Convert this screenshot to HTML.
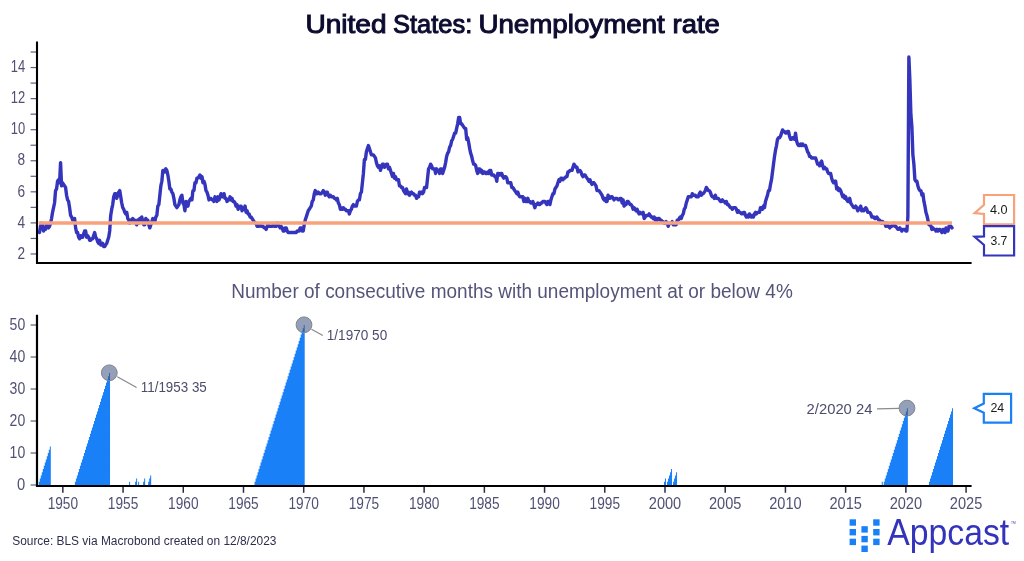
<!DOCTYPE html>
<html><head><meta charset="utf-8">
<style>
html,body{margin:0;padding:0;background:#fff;}
body{width:1024px;height:561px;overflow:hidden;}
svg{display:block;will-change:transform;}
text{font-family:"Liberation Sans", sans-serif;}
</style></head>
<body>
<svg width="1024" height="561" viewBox="0 0 1024 561">
<rect width="1024" height="561" fill="#fff"/>
<g font-size="26" fill="#0c0c30" stroke="#0c0c30" stroke-width="1.0">
<text x="305.4" y="32.5" textLength="81.1" lengthAdjust="spacingAndGlyphs">United</text>
<text x="393" y="32.5" textLength="79.2" lengthAdjust="spacingAndGlyphs">States:</text>
<text x="478.4" y="32.5" textLength="186.4" lengthAdjust="spacingAndGlyphs">Unemployment</text>
<text x="672.6" y="32.5" textLength="47.2" lengthAdjust="spacingAndGlyphs">rate</text>
</g>

<g stroke="#60607c" stroke-width="1.2"><line x1="30.6" y1="253.97" x2="37" y2="253.97"/><line x1="30.6" y1="238.44" x2="37" y2="238.44"/><line x1="30.6" y1="222.90" x2="37" y2="222.90"/><line x1="30.6" y1="207.37" x2="37" y2="207.37"/><line x1="30.6" y1="191.83" x2="37" y2="191.83"/><line x1="30.6" y1="176.30" x2="37" y2="176.30"/><line x1="30.6" y1="160.76" x2="37" y2="160.76"/><line x1="30.6" y1="145.23" x2="37" y2="145.23"/><line x1="30.6" y1="129.69" x2="37" y2="129.69"/><line x1="30.6" y1="114.16" x2="37" y2="114.16"/><line x1="30.6" y1="98.62" x2="37" y2="98.62"/><line x1="30.6" y1="83.09" x2="37" y2="83.09"/><line x1="30.6" y1="67.55" x2="37" y2="67.55"/><line x1="30.6" y1="52.02" x2="37" y2="52.02"/></g>
<g font-size="16" fill="#505074" text-anchor="end"><text x="25.2" y="258.67" textLength="7.6" lengthAdjust="spacingAndGlyphs">2</text><text x="25.2" y="227.60" textLength="7.6" lengthAdjust="spacingAndGlyphs">4</text><text x="25.2" y="196.53" textLength="7.6" lengthAdjust="spacingAndGlyphs">6</text><text x="25.2" y="165.46" textLength="7.6" lengthAdjust="spacingAndGlyphs">8</text><text x="25.2" y="134.39" textLength="14.4" lengthAdjust="spacingAndGlyphs">10</text><text x="25.2" y="103.32" textLength="14.4" lengthAdjust="spacingAndGlyphs">12</text><text x="25.2" y="72.25" textLength="14.4" lengthAdjust="spacingAndGlyphs">14</text></g>
<polyline points="39.51,232.52 40.52,226.31 41.52,223.20 42.52,224.75 43.52,230.97 44.53,229.41 45.53,229.41 46.53,224.75 47.54,226.31 48.54,227.86 49.54,226.31 50.54,223.20 51.55,218.54 52.55,212.33 53.55,207.67 54.55,203.00 55.56,190.58 56.56,189.02 57.56,181.26 58.57,179.70 59.57,182.81 60.57,162.61 61.57,185.92 62.58,182.81 63.58,184.36 64.58,185.92 65.58,187.47 66.59,195.24 67.59,199.90 68.59,201.45 69.60,207.67 70.60,215.43 71.60,216.99 72.60,220.09 73.61,220.09 74.61,218.54 75.61,227.86 76.61,232.52 77.62,232.52 78.62,237.18 79.62,238.74 80.63,235.63 81.63,237.18 82.63,237.18 83.63,234.07 84.64,230.97 85.64,230.97 86.64,237.18 87.64,235.63 88.65,237.18 89.65,240.29 90.65,240.29 91.66,238.74 92.66,238.74 93.66,235.63 94.66,232.52 95.67,237.18 96.67,238.74 97.67,241.84 98.67,243.40 99.68,240.29 100.68,244.95 101.68,244.95 102.69,243.40 103.69,246.50 104.69,246.50 105.69,244.95 106.70,243.40 107.70,240.29 108.70,237.18 109.70,230.97 110.71,215.43 111.71,209.22 112.71,204.56 113.72,196.79 114.72,193.68 115.72,193.68 116.72,198.34 117.73,195.24 118.73,192.13 119.73,190.58 120.73,196.79 121.74,203.00 122.74,207.67 123.74,209.22 124.75,212.33 125.75,213.88 126.75,212.33 127.75,218.54 128.76,220.09 129.76,223.20 130.76,220.09 131.76,221.65 132.77,218.54 133.77,220.09 134.77,220.09 135.77,223.20 136.78,224.75 137.78,220.09 138.78,223.20 139.79,218.54 140.79,218.54 141.79,216.99 142.79,221.65 143.80,224.75 144.80,224.75 145.80,218.54 146.80,220.09 147.81,220.09 148.81,224.75 149.81,227.86 150.82,224.75 151.82,221.65 152.82,218.54 153.82,220.09 154.83,221.65 155.83,216.99 156.83,215.43 157.83,206.11 158.84,204.56 159.84,195.24 160.84,185.92 161.85,181.26 162.85,170.38 163.85,170.38 164.85,171.93 165.86,168.83 166.86,170.38 167.86,175.04 168.86,181.26 169.87,189.02 170.87,189.02 171.87,192.13 172.88,193.68 173.88,198.34 174.88,204.56 175.88,206.11 176.89,207.67 177.89,206.11 178.89,204.56 179.89,199.90 180.90,196.79 181.90,195.24 182.90,203.00 183.91,204.56 184.91,210.77 185.91,201.45 186.91,204.56 187.92,206.11 188.92,201.45 189.92,199.90 190.92,198.34 191.93,199.90 192.93,190.58 193.93,190.58 194.94,182.81 195.94,182.81 196.94,178.15 197.94,178.15 198.95,176.60 199.95,175.04 200.95,178.15 201.95,176.60 202.96,182.81 203.96,181.26 204.96,184.36 205.97,190.58 206.97,192.13 207.97,195.24 208.97,199.90 209.98,198.34 210.98,198.34 211.98,199.90 212.98,199.90 213.99,201.45 214.99,196.79 215.99,198.34 217.00,201.45 218.00,196.79 219.00,199.90 220.00,196.79 221.01,193.68 222.01,196.79 223.01,196.79 224.01,193.68 225.02,198.34 226.02,198.34 227.02,201.45 228.03,199.90 229.03,199.90 230.03,196.79 231.03,199.90 232.04,198.34 233.04,201.45 234.04,201.45 235.04,203.00 236.05,206.11 237.05,204.56 238.05,209.22 239.05,207.67 240.06,206.11 241.06,206.11 242.06,210.77 243.07,207.67 244.07,209.22 245.07,206.11 246.07,212.33 247.08,210.77 248.08,213.88 249.08,213.88 250.08,216.99 251.09,216.99 252.09,218.54 253.09,220.09 254.10,221.65 255.10,223.20 256.10,223.20 257.10,226.31 258.11,226.31 259.11,226.31 260.11,224.75 261.11,226.31 262.12,226.31 263.12,226.31 264.12,227.86 265.13,227.86 266.13,229.41 267.13,226.31 268.13,224.75 269.14,226.31 270.14,226.31 271.14,226.31 272.14,226.31 273.15,224.75 274.15,226.31 275.15,226.31 276.16,226.31 277.16,223.20 278.16,224.75 279.16,226.31 280.17,227.86 281.17,226.31 282.17,227.86 283.17,230.97 284.18,230.97 285.18,227.86 286.18,227.86 287.19,230.97 288.19,232.52 289.19,232.52 290.19,232.52 291.20,232.52 292.20,232.52 293.20,232.52 294.20,232.52 295.21,232.52 296.21,232.52 297.21,230.97 298.22,230.97 299.22,230.97 300.22,227.86 301.22,227.86 302.23,230.97 303.23,230.97 304.23,224.75 305.23,220.09 306.24,216.99 307.24,213.88 308.24,210.77 309.25,209.22 310.25,207.67 311.25,206.11 312.25,201.45 313.26,199.90 314.26,193.68 315.26,190.58 316.26,193.68 317.27,193.68 318.27,192.13 319.27,193.68 320.28,193.68 321.28,193.68 322.28,192.13 323.28,190.58 324.29,192.13 325.29,195.24 326.29,192.13 327.29,192.13 328.30,195.24 329.30,196.79 330.30,195.24 331.31,196.79 332.31,196.79 333.31,196.79 334.31,198.34 335.32,198.34 336.32,199.90 337.32,198.34 338.32,203.00 339.33,204.56 340.33,209.22 341.33,207.67 342.33,209.22 343.34,207.67 344.34,209.22 345.34,209.22 346.35,210.77 347.35,210.77 348.35,210.77 349.35,213.88 350.36,210.77 351.36,209.22 352.36,206.11 353.36,204.56 354.37,206.11 355.37,206.11 356.37,206.11 357.38,201.45 358.38,199.90 359.38,199.90 360.38,193.68 361.39,192.13 362.39,182.81 363.39,173.49 364.39,159.51 365.40,159.51 366.40,151.74 367.40,148.63 368.41,145.53 369.41,148.63 370.41,151.74 371.41,154.85 372.42,154.85 373.42,154.85 374.42,156.40 375.42,157.95 376.43,162.61 377.43,165.72 378.43,167.27 379.44,165.72 380.44,170.38 381.44,167.27 382.44,164.17 383.45,164.17 384.45,167.27 385.45,165.72 386.45,164.17 387.46,164.17 388.46,168.83 389.46,167.27 390.47,170.38 391.47,173.49 392.47,176.60 393.47,173.49 394.48,178.15 395.48,176.60 396.48,179.70 397.48,179.70 398.49,179.70 399.49,185.92 400.49,185.92 401.50,187.47 402.50,187.47 403.50,190.58 404.50,192.13 405.51,193.68 406.51,189.02 407.51,193.68 408.51,192.13 409.52,195.24 410.52,193.68 411.52,192.13 412.53,193.68 413.53,193.68 414.53,195.24 415.53,195.24 416.54,198.34 417.54,196.79 418.54,196.79 419.54,192.13 420.55,193.68 421.55,192.13 422.55,193.68 423.56,192.13 424.56,187.47 425.56,187.47 426.56,187.47 427.57,178.15 428.57,168.83 429.57,167.27 430.57,164.17 431.58,165.72 432.58,168.83 433.58,168.83 434.59,168.83 435.59,173.49 436.59,168.83 437.59,170.38 438.60,170.38 439.60,173.49 440.60,168.83 441.60,168.83 442.61,173.49 443.61,170.38 444.61,167.27 445.61,162.61 446.62,156.40 447.62,153.29 448.62,151.74 449.63,147.08 450.63,145.53 451.63,140.86 452.63,139.31 453.64,136.20 454.64,133.10 455.64,133.10 456.64,128.44 457.65,123.78 458.65,117.56 459.65,117.56 460.66,123.78 461.66,123.78 462.66,125.33 463.66,126.88 464.67,128.44 465.67,128.44 466.67,139.31 467.67,137.76 468.68,142.42 469.68,148.63 470.68,153.29 471.69,156.40 472.69,161.06 473.69,164.17 474.69,164.17 475.70,165.72 476.70,170.38 477.70,173.49 478.70,168.83 479.71,168.83 480.71,171.93 481.71,170.38 482.72,173.49 483.72,171.93 484.72,171.93 485.72,173.49 486.73,173.49 487.73,171.93 488.73,173.49 489.73,170.38 490.74,170.38 491.74,175.04 492.74,175.04 493.75,175.04 494.75,176.60 495.75,176.60 496.75,181.26 497.76,173.49 498.76,173.49 499.76,175.04 500.76,173.49 501.77,173.49 502.77,176.60 503.77,178.15 504.78,176.60 505.78,176.60 506.78,178.15 507.78,182.81 508.79,182.81 509.79,182.81 510.79,182.81 511.79,187.47 512.80,187.47 513.80,189.02 514.80,190.58 515.81,192.13 516.81,193.68 517.81,192.13 518.81,195.24 519.82,196.79 520.82,196.79 521.82,196.79 522.82,196.79 523.83,201.45 524.83,198.34 525.83,201.45 526.84,201.45 527.84,198.34 528.84,201.45 529.84,201.45 530.85,203.00 531.85,203.00 532.85,201.45 533.85,204.56 534.86,207.67 535.86,204.56 536.86,204.56 537.86,203.00 538.87,204.56 539.87,204.56 540.87,203.00 541.88,203.00 542.88,201.45 543.88,201.45 544.88,201.45 545.89,203.00 546.89,204.56 547.89,201.45 548.89,201.45 549.90,204.56 550.90,199.90 551.90,196.79 552.91,193.68 553.91,193.68 554.91,189.02 555.91,187.47 556.92,185.92 557.92,182.81 558.92,179.70 559.92,181.26 560.93,178.15 561.93,178.15 562.93,179.70 563.94,178.15 564.94,178.15 565.94,176.60 566.94,176.60 567.95,171.93 568.95,171.93 569.95,170.38 570.95,170.38 571.96,170.38 572.96,167.27 573.96,164.17 574.97,165.72 575.97,167.27 576.97,167.27 577.97,171.93 578.98,170.38 579.98,170.38 580.98,171.93 581.98,175.04 582.99,176.60 583.99,175.04 584.99,175.04 586.00,176.60 587.00,178.15 588.00,179.70 589.00,181.26 590.01,179.70 591.01,182.81 592.01,184.36 593.01,182.81 594.02,182.81 595.02,184.36 596.02,185.92 597.03,190.58 598.03,190.58 599.03,190.58 600.03,192.13 601.04,193.68 602.04,195.24 603.04,198.34 604.04,199.90 605.05,198.34 606.05,201.45 607.05,201.45 608.06,195.24 609.06,198.34 610.06,198.34 611.06,196.79 612.07,196.79 613.07,198.34 614.07,199.90 615.07,198.34 616.08,198.34 617.08,198.34 618.08,199.90 619.09,199.90 620.09,198.34 621.09,198.34 622.09,203.00 623.10,199.90 624.10,206.11 625.10,204.56 626.10,204.56 627.11,201.45 628.11,201.45 629.11,203.00 630.12,204.56 631.12,204.56 632.12,206.11 633.12,209.22 634.13,207.67 635.13,209.22 636.13,210.77 637.13,209.22 638.14,212.33 639.14,213.88 640.14,212.33 641.14,213.88 642.15,213.88 643.15,212.33 644.15,218.54 645.16,216.99 646.16,215.43 647.16,215.43 648.16,215.43 649.17,213.88 650.17,215.43 651.17,216.99 652.17,216.99 653.18,218.54 654.18,216.99 655.18,220.09 656.19,218.54 657.19,220.09 658.19,218.54 659.19,218.54 660.20,220.09 661.20,220.09 662.20,221.65 663.20,221.65 664.21,223.20 665.21,223.20 666.21,221.65 667.22,223.20 668.22,226.31 669.22,223.20 670.22,223.20 671.23,223.20 672.23,221.65 673.23,224.75 674.23,224.75 675.24,224.75 676.24,224.75 677.24,220.09 678.25,220.09 679.25,218.54 680.25,216.99 681.25,218.54 682.26,215.43 683.26,213.88 684.26,209.22 685.26,207.67 686.27,203.00 687.27,199.90 688.27,196.79 689.28,196.79 690.28,196.79 691.28,196.79 692.28,193.68 693.29,195.24 694.29,195.24 695.29,195.24 696.29,196.79 697.30,196.79 698.30,196.79 699.30,193.68 700.31,192.13 701.31,195.24 702.31,193.68 703.31,193.68 704.32,192.13 705.32,190.58 706.32,187.47 707.32,189.02 708.33,190.58 709.33,190.58 710.33,192.13 711.34,195.24 712.34,196.79 713.34,196.79 714.34,198.34 715.35,195.24 716.35,198.34 717.35,198.34 718.35,198.34 719.36,199.90 720.36,201.45 721.36,201.45 722.37,199.90 723.37,201.45 724.37,201.45 725.37,203.00 726.38,201.45 727.38,204.56 728.38,204.56 729.38,206.11 730.39,207.67 731.39,207.67 732.39,209.22 733.40,207.67 734.40,207.67 735.40,207.67 736.40,209.22 737.41,212.33 738.41,210.77 739.41,212.33 740.41,212.33 741.42,213.88 742.42,213.88 743.42,212.33 744.42,212.33 745.43,215.43 746.43,216.99 747.43,215.43 748.44,216.99 749.44,213.88 750.44,215.43 751.44,216.99 752.45,215.43 753.45,216.99 754.45,213.88 755.45,212.33 756.46,213.88 757.46,212.33 758.46,212.33 759.47,212.33 760.47,207.67 761.47,207.67 762.47,209.22 763.48,206.11 764.48,207.67 765.48,201.45 766.48,198.34 767.49,195.24 768.49,190.58 769.49,190.58 770.50,184.36 771.50,179.70 772.50,171.93 773.50,164.17 774.51,156.40 775.51,150.19 776.51,145.53 777.51,139.31 778.52,137.76 779.52,137.76 780.52,136.20 781.53,133.10 782.53,129.99 783.53,131.54 784.53,131.54 785.54,133.10 786.54,133.10 787.54,131.54 788.54,131.54 789.55,136.20 790.55,139.31 791.55,139.31 792.56,137.76 793.56,137.76 794.56,139.31 795.56,133.10 796.57,140.86 797.57,143.97 798.57,145.53 799.57,145.53 800.58,143.97 801.58,145.53 802.58,143.97 803.59,145.53 804.59,145.53 805.59,145.53 806.59,148.63 807.60,151.74 808.60,153.29 809.60,156.40 810.60,156.40 811.61,157.95 812.61,157.95 813.61,157.95 814.62,157.95 815.62,157.95 816.62,161.06 817.62,164.17 818.63,164.17 819.63,165.72 820.63,162.61 821.63,161.06 822.64,165.72 823.64,168.83 824.64,167.27 825.65,168.83 826.65,168.83 827.65,171.93 828.65,173.49 829.66,173.49 830.66,173.49 831.66,178.15 832.66,181.26 833.67,182.81 834.67,181.26 835.67,181.26 836.68,189.02 837.68,187.47 838.68,190.58 839.68,189.02 840.69,190.58 841.69,193.68 842.69,196.79 843.69,195.24 844.70,198.34 845.70,196.79 846.70,199.90 847.70,201.45 848.71,201.45 849.71,198.34 850.71,203.00 851.72,204.56 852.72,206.11 853.72,207.67 854.72,207.67 855.73,206.11 856.73,207.67 857.73,210.77 858.73,209.22 859.74,207.67 860.74,206.11 861.74,210.77 862.75,209.22 863.75,210.77 864.75,209.22 865.75,207.67 866.76,209.22 867.76,212.33 868.76,212.33 869.76,212.33 870.77,213.88 871.77,216.99 872.77,216.99 873.78,216.99 874.78,218.54 875.78,218.54 876.78,216.99 877.79,218.54 878.79,220.09 879.79,220.09 880.79,221.65 881.80,223.20 882.80,221.65 883.80,223.20 884.81,223.20 885.81,226.31 886.81,223.20 887.81,226.31 888.82,226.31 889.82,227.86 890.82,226.31 891.82,226.31 892.83,224.75 893.83,223.20 894.83,226.31 895.84,226.31 896.84,227.86 897.84,229.41 898.84,229.41 899.85,227.86 900.85,229.41 901.85,230.97 902.85,229.41 903.86,229.41 904.86,229.41 905.86,230.97 906.87,230.97 907.87,216.99 908.87,56.98 909.87,80.28 910.88,114.45 911.88,126.88 912.89,154.85 913.89,164.17 914.89,179.70 915.90,181.26 916.90,181.26 917.90,185.92 918.91,189.02 919.91,190.58 920.91,190.58 921.92,195.24 922.92,193.68 923.92,201.45 924.93,206.11 925.93,212.33 926.94,215.43 927.94,220.09 928.94,224.75 929.95,223.20 930.95,226.31 931.95,229.41 932.96,227.86 933.96,229.41 934.96,229.41 935.97,230.97 936.97,229.41 937.97,230.97 938.98,229.41 939.98,229.41 940.99,230.97 941.99,232.52 942.99,229.41 944.00,230.97 945.00,232.52 946.00,227.86 947.01,229.41 948.01,230.97 949.01,226.31 950.02,226.31 951.02,226.31 952.02,227.86" fill="none" stroke="#3434bc" stroke-width="3.4" stroke-linejoin="round" stroke-linecap="round"/>
<line x1="38.76" y1="223.0" x2="952.02" y2="223.0" stroke="#f8a27c" stroke-width="3.7"/>
<path d="M37,41.6 V263 H971.6" fill="none" stroke="#000" stroke-width="2.1"/>

<path d="M984,195 H1014.1 V224.3 H984 V214 L974.6,213.1 L984,204.7 Z" fill="#fff" stroke="#f8a27c" stroke-width="2.2"/>
<text x="990" y="213.8" font-size="13.4" fill="#1a1a1a" textLength="17.6" lengthAdjust="spacingAndGlyphs">4.0</text>
<path d="M984,226.2 H1014.1 V255.5 H984 V244.9 L974.6,236.8 L984,236.4 Z" fill="#fff" stroke="#3434bc" stroke-width="2.2"/>
<text x="990.4" y="245" font-size="13.4" fill="#1a1a1a" textLength="17" lengthAdjust="spacingAndGlyphs">3.7</text>

<text x="231.2" y="297.7" font-size="20" fill="#54547a" textLength="561.6" lengthAdjust="spacingAndGlyphs">Number of consecutive months with unemployment at or below 4%</text>

<g fill="#1a80f8">
<polygon points="38.76,485.00 38.76,481.80 39.77,481.80 39.77,478.60 40.77,478.60 40.77,475.40 41.77,475.40 41.77,472.20 42.78,472.20 42.78,469.00 43.78,469.00 43.78,465.80 44.79,465.80 44.79,462.60 45.79,462.60 45.79,459.40 46.79,459.40 46.79,456.20 47.80,456.20 47.80,453.00 48.80,453.00 48.80,449.80 49.80,449.80 49.80,446.60 50.81,446.60 50.81,485.00"/>
<polygon points="74.89,485.00 74.89,481.80 75.90,481.80 75.90,478.60 76.90,478.60 76.90,475.40 77.90,475.40 77.90,472.20 78.91,472.20 78.91,469.00 79.91,469.00 79.91,465.80 80.91,465.80 80.91,462.60 81.92,462.60 81.92,459.40 82.92,459.40 82.92,456.20 83.93,456.20 83.93,453.00 84.93,453.00 84.93,449.80 85.93,449.80 85.93,446.60 86.94,446.60 86.94,443.40 87.94,443.40 87.94,440.20 88.94,440.20 88.94,437.00 89.95,437.00 89.95,433.80 90.95,433.80 90.95,430.60 91.95,430.60 91.95,427.40 92.96,427.40 92.96,424.20 93.96,424.20 93.96,421.00 94.96,421.00 94.96,417.80 95.97,417.80 95.97,414.60 96.97,414.60 96.97,411.40 97.98,411.40 97.98,408.20 98.98,408.20 98.98,405.00 99.98,405.00 99.98,401.80 100.99,401.80 100.99,398.60 101.99,398.60 101.99,395.40 102.99,395.40 102.99,392.20 104.00,392.20 104.00,389.00 105.00,389.00 105.00,385.80 106.00,385.80 106.00,382.60 107.01,382.60 107.01,379.40 108.01,379.40 108.01,376.20 109.01,376.20 109.01,373.00 110.02,373.00 110.02,485.00"/>
<polygon points="129.09,485.00 129.09,481.80 130.09,481.80 130.09,485.00"/>
<polygon points="135.11,485.00 135.11,481.80 136.11,481.80 136.11,478.60 137.12,478.60 137.12,485.00"/>
<polygon points="138.12,485.00 138.12,481.80 139.12,481.80 139.12,485.00"/>
<polygon points="143.14,485.00 143.14,481.80 144.14,481.80 144.14,478.60 145.14,478.60 145.14,485.00"/>
<polygon points="148.15,485.00 148.15,481.80 149.16,481.80 149.16,478.60 150.16,478.60 150.16,475.40 151.17,475.40 151.17,485.00"/>
<polygon points="254.53,485.00 254.53,481.80 255.54,481.80 255.54,478.60 256.54,478.60 256.54,475.40 257.55,475.40 257.55,472.20 258.55,472.20 258.55,469.00 259.55,469.00 259.55,465.80 260.56,465.80 260.56,462.60 261.56,462.60 261.56,459.40 262.56,459.40 262.56,456.20 263.57,456.20 263.57,453.00 264.57,453.00 264.57,449.80 265.57,449.80 265.57,446.60 266.58,446.60 266.58,443.40 267.58,443.40 267.58,440.20 268.58,440.20 268.58,437.00 269.59,437.00 269.59,433.80 270.59,433.80 270.59,430.60 271.60,430.60 271.60,427.40 272.60,427.40 272.60,424.20 273.60,424.20 273.60,421.00 274.61,421.00 274.61,417.80 275.61,417.80 275.61,414.60 276.61,414.60 276.61,411.40 277.62,411.40 277.62,408.20 278.62,408.20 278.62,405.00 279.62,405.00 279.62,401.80 280.63,401.80 280.63,398.60 281.63,398.60 281.63,395.40 282.63,395.40 282.63,392.20 283.64,392.20 283.64,389.00 284.64,389.00 284.64,385.80 285.65,385.80 285.65,382.60 286.65,382.60 286.65,379.40 287.65,379.40 287.65,376.20 288.66,376.20 288.66,373.00 289.66,373.00 289.66,369.80 290.66,369.80 290.66,366.60 291.67,366.60 291.67,363.40 292.67,363.40 292.67,360.20 293.67,360.20 293.67,357.00 294.68,357.00 294.68,353.80 295.68,353.80 295.68,350.60 296.68,350.60 296.68,347.40 297.69,347.40 297.69,344.20 298.69,344.20 298.69,341.00 299.70,341.00 299.70,337.80 300.70,337.80 300.70,334.60 301.70,334.60 301.70,331.40 302.71,331.40 302.71,328.20 303.71,328.20 303.71,325.00 304.71,325.00 304.71,485.00"/>
<polygon points="664.00,485.00 664.00,481.80 665.00,481.80 665.00,478.60 666.00,478.60 666.00,485.00"/>
<polygon points="667.01,485.00 667.01,481.80 668.01,481.80 668.01,478.60 669.01,478.60 669.01,475.40 670.02,475.40 670.02,472.20 671.02,472.20 671.02,469.00 672.03,469.00 672.03,485.00"/>
<polygon points="673.03,485.00 673.03,481.80 674.03,481.80 674.03,478.60 675.04,478.60 675.04,475.40 676.04,475.40 676.04,472.20 677.04,472.20 677.04,485.00"/>
<polygon points="881.77,485.00 881.77,481.80 882.78,481.80 882.78,485.00"/>
<polygon points="883.78,485.00 883.78,481.80 884.78,481.80 884.78,478.60 885.79,478.60 885.79,475.40 886.79,475.40 886.79,472.20 887.80,472.20 887.80,469.00 888.80,469.00 888.80,465.80 889.80,465.80 889.80,462.60 890.81,462.60 890.81,459.40 891.81,459.40 891.81,456.20 892.81,456.20 892.81,453.00 893.82,453.00 893.82,449.80 894.82,449.80 894.82,446.60 895.82,446.60 895.82,443.40 896.83,443.40 896.83,440.20 897.83,440.20 897.83,437.00 898.83,437.00 898.83,433.80 899.84,433.80 899.84,430.60 900.84,430.60 900.84,427.40 901.85,427.40 901.85,424.20 902.85,424.20 902.85,421.00 903.85,421.00 903.85,417.80 904.86,417.80 904.86,414.60 905.86,414.60 905.86,411.40 906.86,411.40 906.86,408.20 907.87,408.20 907.87,485.00"/>
<polygon points="928.94,485.00 928.94,481.80 929.95,481.80 929.95,478.60 930.95,478.60 930.95,475.40 931.95,475.40 931.95,472.20 932.96,472.20 932.96,469.00 933.96,469.00 933.96,465.80 934.96,465.80 934.96,462.60 935.97,462.60 935.97,459.40 936.97,459.40 936.97,456.20 937.97,456.20 937.97,453.00 938.98,453.00 938.98,449.80 939.98,449.80 939.98,446.60 940.99,446.60 940.99,443.40 941.99,443.40 941.99,440.20 942.99,440.20 942.99,437.00 944.00,437.00 944.00,433.80 945.00,433.80 945.00,430.60 946.00,430.60 946.00,427.40 947.01,427.40 947.01,424.20 948.01,424.20 948.01,421.00 949.01,421.00 949.01,417.80 950.02,417.80 950.02,414.60 951.02,414.60 951.02,411.40 952.02,411.40 952.02,408.20 953.03,408.20 953.03,485.00"/>
</g>
<g stroke="#60607c" stroke-width="1.2"><line x1="30.6" y1="485.00" x2="37" y2="485.00"/><line x1="30.6" y1="453.00" x2="37" y2="453.00"/><line x1="30.6" y1="421.00" x2="37" y2="421.00"/><line x1="30.6" y1="389.00" x2="37" y2="389.00"/><line x1="30.6" y1="357.00" x2="37" y2="357.00"/><line x1="30.6" y1="325.00" x2="37" y2="325.00"/></g>
<g font-size="16" fill="#505074" text-anchor="end"><text x="25.2" y="490.00" textLength="8.2" lengthAdjust="spacingAndGlyphs">0</text><text x="25.2" y="458.00" textLength="15.6" lengthAdjust="spacingAndGlyphs">10</text><text x="25.2" y="426.00" textLength="15.6" lengthAdjust="spacingAndGlyphs">20</text><text x="25.2" y="394.00" textLength="15.6" lengthAdjust="spacingAndGlyphs">30</text><text x="25.2" y="362.00" textLength="15.6" lengthAdjust="spacingAndGlyphs">40</text><text x="25.2" y="330.00" textLength="15.6" lengthAdjust="spacingAndGlyphs">50</text></g>
<g stroke="#2a2a44" stroke-width="1.5"><line x1="62.85" y1="486.5" x2="62.85" y2="492.8"/><line x1="123.06" y1="486.5" x2="123.06" y2="492.8"/><line x1="183.28" y1="486.5" x2="183.28" y2="492.8"/><line x1="243.49" y1="486.5" x2="243.49" y2="492.8"/><line x1="303.71" y1="486.5" x2="303.71" y2="492.8"/><line x1="363.93" y1="486.5" x2="363.93" y2="492.8"/><line x1="424.14" y1="486.5" x2="424.14" y2="492.8"/><line x1="484.36" y1="486.5" x2="484.36" y2="492.8"/><line x1="544.57" y1="486.5" x2="544.57" y2="492.8"/><line x1="604.78" y1="486.5" x2="604.78" y2="492.8"/><line x1="665.00" y1="486.5" x2="665.00" y2="492.8"/><line x1="725.22" y1="486.5" x2="725.22" y2="492.8"/><line x1="785.43" y1="486.5" x2="785.43" y2="492.8"/><line x1="845.64" y1="486.5" x2="845.64" y2="492.8"/><line x1="905.86" y1="486.5" x2="905.86" y2="492.8"/><line x1="966.07" y1="486.5" x2="966.07" y2="492.8"/></g>
<g font-size="16" fill="#505074"><text x="47.65" y="509.2" textLength="30.4" lengthAdjust="spacingAndGlyphs">1950</text><text x="107.86" y="509.2" textLength="30.4" lengthAdjust="spacingAndGlyphs">1955</text><text x="168.08" y="509.2" textLength="30.4" lengthAdjust="spacingAndGlyphs">1960</text><text x="228.29" y="509.2" textLength="30.4" lengthAdjust="spacingAndGlyphs">1965</text><text x="288.51" y="509.2" textLength="30.4" lengthAdjust="spacingAndGlyphs">1970</text><text x="348.73" y="509.2" textLength="30.4" lengthAdjust="spacingAndGlyphs">1975</text><text x="408.94" y="509.2" textLength="30.4" lengthAdjust="spacingAndGlyphs">1980</text><text x="469.16" y="509.2" textLength="30.4" lengthAdjust="spacingAndGlyphs">1985</text><text x="529.37" y="509.2" textLength="30.4" lengthAdjust="spacingAndGlyphs">1990</text><text x="589.58" y="509.2" textLength="30.4" lengthAdjust="spacingAndGlyphs">1995</text><text x="648.80" y="509.2" textLength="32.4" lengthAdjust="spacingAndGlyphs">2000</text><text x="709.01" y="509.2" textLength="32.4" lengthAdjust="spacingAndGlyphs">2005</text><text x="769.23" y="509.2" textLength="32.4" lengthAdjust="spacingAndGlyphs">2010</text><text x="829.44" y="509.2" textLength="32.4" lengthAdjust="spacingAndGlyphs">2015</text><text x="889.66" y="509.2" textLength="32.4" lengthAdjust="spacingAndGlyphs">2020</text><text x="949.87" y="509.2" textLength="32.4" lengthAdjust="spacingAndGlyphs">2025</text></g>
<path d="M37,314.8 V486.0 H971.6" fill="none" stroke="#000" stroke-width="2.2"/>

<g stroke="#8a8a90" stroke-width="1.3" fill="none">
<line x1="117.3" y1="376.7" x2="136.6" y2="387.5"/>
<line x1="311.5" y1="329.3" x2="322.8" y2="335.5"/>
<line x1="877" y1="408.9" x2="899" y2="408.4"/>
</g>
<g fill="rgb(60,80,125)" fill-opacity="0.55" stroke="#84848c" stroke-width="1">
<circle cx="109.3" cy="372.8" r="7.9"/>
<circle cx="304" cy="324.8" r="7.9"/>
<circle cx="907" cy="408.1" r="7.9"/>
</g>
<g font-size="15.5" fill="#4c4c6c">
<text x="140.8" y="391.6" textLength="66" lengthAdjust="spacingAndGlyphs">11/1953 35</text>
<text x="326.8" y="340.2" textLength="60.4" lengthAdjust="spacingAndGlyphs">1/1970 50</text>
<text x="806.6" y="414.3" textLength="65.8" lengthAdjust="spacingAndGlyphs">2/2020 24</text>
</g>
<path d="M983.8,393.8 H1011.1 V422.7 H983.8 V412.8 L974.2,408.3 L983.8,403.5 Z" fill="#fff" stroke="#1a80f8" stroke-width="2.2"/>
<text x="990.4" y="412.2" font-size="13.6" fill="#1a1a1a" textLength="13.8" lengthAdjust="spacingAndGlyphs">24</text>

<text x="12.2" y="545.3" font-size="12.5" fill="#2d2d4d" textLength="264.2" lengthAdjust="spacingAndGlyphs">Source: BLS via Macrobond created on 12/8/2023</text>

<g fill="#1a80f8">
<rect x="849.6" y="519.3" width="6.4" height="6.4"/>
<rect x="849.6" y="529.0" width="6.4" height="6.4"/>
<rect x="849.6" y="538.7" width="6.4" height="6.4"/>
<rect x="861.4" y="526.2" width="6.4" height="6.4"/>
<rect x="861.4" y="535.9" width="6.4" height="6.4"/>
<rect x="861.4" y="545.6" width="6.4" height="6.4"/>
<rect x="873.2" y="519.3" width="6.4" height="6.4"/>
<rect x="873.2" y="529.0" width="6.4" height="6.4"/>
<rect x="873.2" y="538.7" width="6.4" height="6.4"/>
</g>
<text x="887.2" y="545" font-size="37.5" fill="#3333bb" textLength="122" lengthAdjust="spacingAndGlyphs">Appcast</text>
<text x="1011" y="524.2" font-size="3.6" fill="#3333bb" textLength="4.6" lengthAdjust="spacingAndGlyphs">TM</text>
</svg>
</body></html>
